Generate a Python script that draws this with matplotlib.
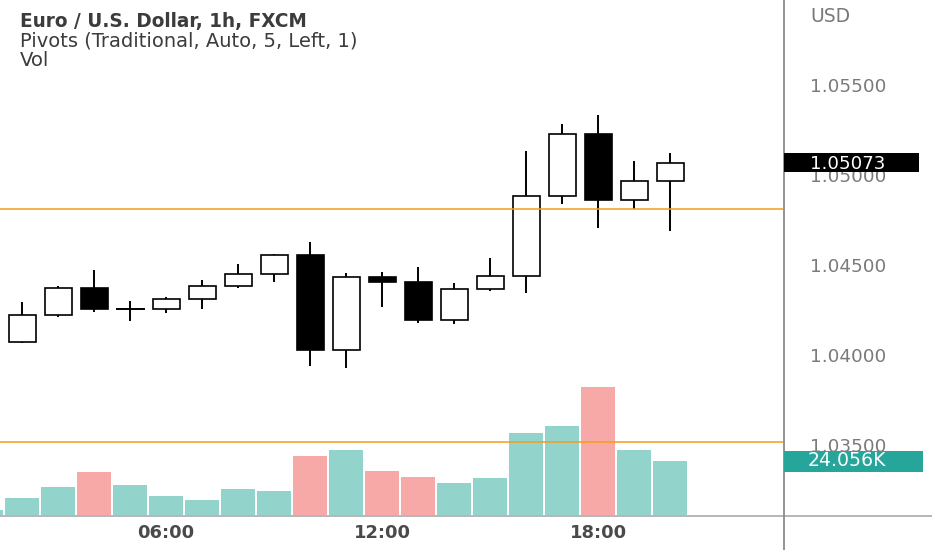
import matplotlib
matplotlib.use("Agg")
import matplotlib.pyplot as plt
from matplotlib.patches import Rectangle

# EUR/USD 1h candles (hour of day, open, high, low, close)
hours = [2, 3, 4, 5, 6, 7, 8, 9, 10, 11, 12, 13, 14, 15, 16, 17, 18, 19, 20]
opens = [1.04078, 1.04228, 1.04378, 1.04261, 1.04261, 1.04317, 1.04389, 1.04456, 1.04561, 1.04033,
         1.04439, 1.04411, 1.04200, 1.04372, 1.04444, 1.04889, 1.05233, 1.04867, 1.04972]
highs = [1.04300, 1.04389, 1.04478, 1.04306, 1.04328, 1.04422, 1.04511, 1.04567, 1.04633, 1.04461,
         1.04467, 1.04494, 1.04406, 1.04544, 1.05139, 1.05289, 1.05339, 1.05083, 1.05128]
lows = [1.04075, 1.04217, 1.04244, 1.04194, 1.04239, 1.04261, 1.04378, 1.04411, 1.03944, 1.03933,
        1.04272, 1.04183, 1.04178, 1.04361, 1.04350, 1.04844, 1.04711, 1.04817, 1.04694]
closes = [1.04228, 1.04378, 1.04261, 1.04261, 1.04317, 1.04389, 1.04456, 1.04561, 1.04033, 1.04439,
          1.04411, 1.04200, 1.04372, 1.04444, 1.04889, 1.05233, 1.04867, 1.04972, 1.05073]

# volume (first bar is the 01:00 candle, cut off at the left edge)
vol_hours = [1, 2, 3, 4, 5, 6, 7, 8, 9, 10, 11, 12, 13, 14, 15, 16, 17, 18, 19, 20]
volumes = [2200, 7600, 12500, 19200, 13400, 8500, 6700, 11600, 10700, 26300,
           29000, 19600, 16900, 14300, 16500, 36500, 39600, 57000, 29000, 24056]
vol_down = [False, False, False, True, False, False, False, False, False, True,
            False, True, True, False, False, False, False, True, False, False]

pivot_levels = [1.04817, 1.03522]
price_ticks = [1.035, 1.040, 1.045, 1.050, 1.055]
time_ticks = [6, 12, 18]
time_labels = ["06:00", "12:00", "18:00"]
last_price = "1.05073"
last_volume = "24.056K"

UP_VOL = "#92d3cc"
DOWN_VOL = "#f7a9a7"
PIVOT = "#f59c1a"
SCALE_TXT = "#7a7a7a"
W, H = 932, 550

fig = plt.figure(figsize=(W / 100, H / 100), dpi=100)
renderer = fig.canvas.get_renderer()
ax = fig.add_axes([0, 35 / H, 783 / W, 515 / H])
axv = ax.twinx()

# volume pane underneath the candles
axv.bar(vol_hours, volumes, width=0.95,
        color=[DOWN_VOL if d else UP_VOL for d in vol_down], zorder=1)
axv.set_ylim(0, 515 * 445.5)
axv.set_yticks([])
ax.set_zorder(axv.get_zorder() + 1)
ax.patch.set_visible(False)

# candles
body_w = 0.75
for h, o, hi, lo, c in zip(hours, opens, highs, lows, closes):
    ax.plot([h, h], [lo, hi], color="black", lw=1.4, zorder=2, solid_capstyle="butt")
    if abs(c - o) < 1e-6:
        ax.plot([h - body_w / 2, h + body_w / 2], [o, o], color="black", lw=1.4, zorder=3)
        continue
    face = "white" if c > o else "black"
    ax.add_patch(Rectangle((h - body_w / 2, min(o, c)), body_w, abs(c - o),
                           facecolor=face, edgecolor="black", lw=1.2, zorder=3))

for lvl in pivot_levels:
    ax.axhline(lvl, color=PIVOT, lw=1.1, zorder=4)

ax.set_xlim(50 / 36, 833 / 36)
ax.set_ylim(1.055 - 429 / 18000, 1.055 + 86 / 18000)
ax.set_xticks([])
ax.set_yticks([])
for s in ax.spines.values():
    s.set_visible(False)
for s in axv.spines.values():
    s.set_visible(False)


def put(x, base, s, target_w, cap, ha="left", **kw):
    # the screenshot's text is wide; size it between its width and its cap height
    t = fig.text(x / W, 1 - base / H, s, ha=ha, va="baseline",
                 family="DejaVu Sans", fontsize=10, **kw)
    fs_w = 10 * target_w / t.get_window_extent(renderer).width
    fs_h = cap / (0.729 * 100 / 72)
    t.set_fontsize((fs_w * fs_h) ** 0.5)
    return t


def price_px(p):
    return 86 + (1.055 - p) * 18000


# right price scale
for p in price_ticks:
    put(810, price_px(p) + 6, f"{p:.5f}", 95, 10.7, color=SCALE_TXT)
put(810, 21.8, "USD", 50, 11, color=SCALE_TXT)

# last price and last volume tags
fig.patches.append(Rectangle((784 / W, 1 - 172 / H), 135 / W, 19 / H,
                             transform=fig.transFigure, facecolor="black", zorder=5))
put(810, 169.5, last_price, 93, 10.7, color="white", zorder=6)
fig.patches.append(Rectangle((784 / W, 1 - 472 / H), 139 / W, 21 / H,
                             transform=fig.transFigure, facecolor="#26a69a", zorder=5))
put(808, 466.5, last_volume, 100, 10.7, color="white", zorder=6)

# axis frame lines extending into the price scale area
fig.add_artist(plt.Line2D([0, 1], [34 / H, 34 / H], color="#b0b0b0", lw=1.3))
fig.add_artist(plt.Line2D([784 / W, 784 / W], [0, 1], color="#8a8a8a", lw=1.3))

# time axis labels
for t, lab in zip(time_ticks, time_labels):
    put(36 * t - 50, 538.3, lab, 68, 11, ha="center", color="#4a4a4a", fontweight="bold")

# legend header
put(20, 26.5, "Euro / U.S. Dollar, 1h, FXCM", 354, 11, color="#3c3c3c", fontweight="bold")
put(20, 46.5, "Pivots (Traditional, Auto, 5, Left, 1)", 435, 11, color="#3c3c3c")
put(20, 66.5, "Vol", 38, 11, color="#3c3c3c")

fig.savefig("out.png", dpi=100)
